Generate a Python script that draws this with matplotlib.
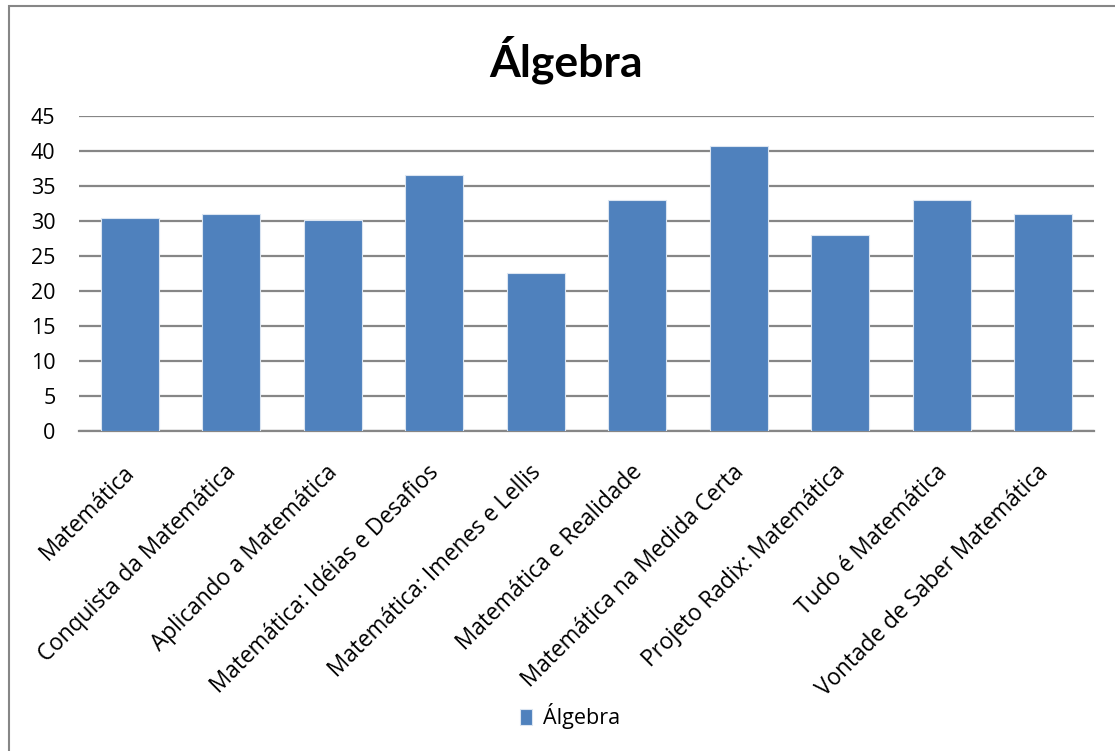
import matplotlib.pyplot as plt
import matplotlib.transforms as mtransforms
from matplotlib.patches import Rectangle

plt.rcParams['font.family'] = ['Open Sans', 'DejaVu Sans']

livros = ['Matemática', 'Conquista da Matemática', 'Aplicando a Matemática',
          'Matemática: Idéias e Desafios', 'Matemática: Imenes e Lellis',
          'Matemática e Realidade', 'Matemática na Medida Certa',
          'Projeto Radix: Matemática', 'Tudo é Matemática',
          'Vontade de Saber Matemática']
algebra = [30.4, 30.95, 30.15, 36.6, 22.6, 33.0, 40.7, 27.95, 33.0, 31.0]
yticks = [0, 5, 10, 15, 20, 25, 30, 35, 40, 45]

fig = plt.figure(figsize=(11.15, 7.51), dpi=100)
ax = fig.add_axes([0.0709, 0.4261, 0.9103, 0.4194])

x = range(len(livros))
ax.bar(x, algebra, width=0.57, color='#4F81BD', edgecolor='#dbe5f1',
       linewidth=0.8, zorder=3, label='Álgebra')

ax.set_xlim(-0.5, len(livros) - 0.5)
ax.set_ylim(0, 45)
ax.set_yticks(yticks)
ax.set_yticklabels([str(v) for v in yticks], fontsize=15.5)
ax.yaxis.grid(True, color='#868686', linewidth=1.6, zorder=0)
ax.tick_params(axis='y', length=0, pad=17)
ax.tick_params(axis='x', length=0, pad=21)
for s in ['top', 'right', 'left']:
    ax.spines[s].set_visible(False)
ax.spines['bottom'].set_color('#868686')
ax.spines['bottom'].set_linewidth(1.6)

ax.set_xticks(list(x))
ax.set_xticklabels(livros, rotation=45, ha='right', va='top',
                   rotation_mode='anchor', fontsize=16.3)
desloc = mtransforms.ScaledTranslation(-0.07, 0, fig.dpi_scale_trans)
for lbl in ax.get_xticklabels():
    lbl.set_transform(lbl.get_transform() + desloc)

fig.text(0.508, 0.92, 'Álgebra', ha='center', va='center', fontsize=32,
         fontweight='bold', family=['Lato', 'DejaVu Sans'])

fig.legend(loc='center', bbox_to_anchor=(0.511, 0.046), frameon=False,
           fontsize=15.5, handlelength=0.55, handleheight=0.8, handletextpad=0.5)

# moldura do grafico (so aparece em cima e a esquerda)
fig.patches.append(Rectangle((9 / 1115, -0.05), 1.2, 1 - 6 / 751 + 0.05,
                             transform=fig.transFigure, fill=False,
                             edgecolor='#868686', linewidth=1.5))

fig.savefig('out.png', dpi=100)
